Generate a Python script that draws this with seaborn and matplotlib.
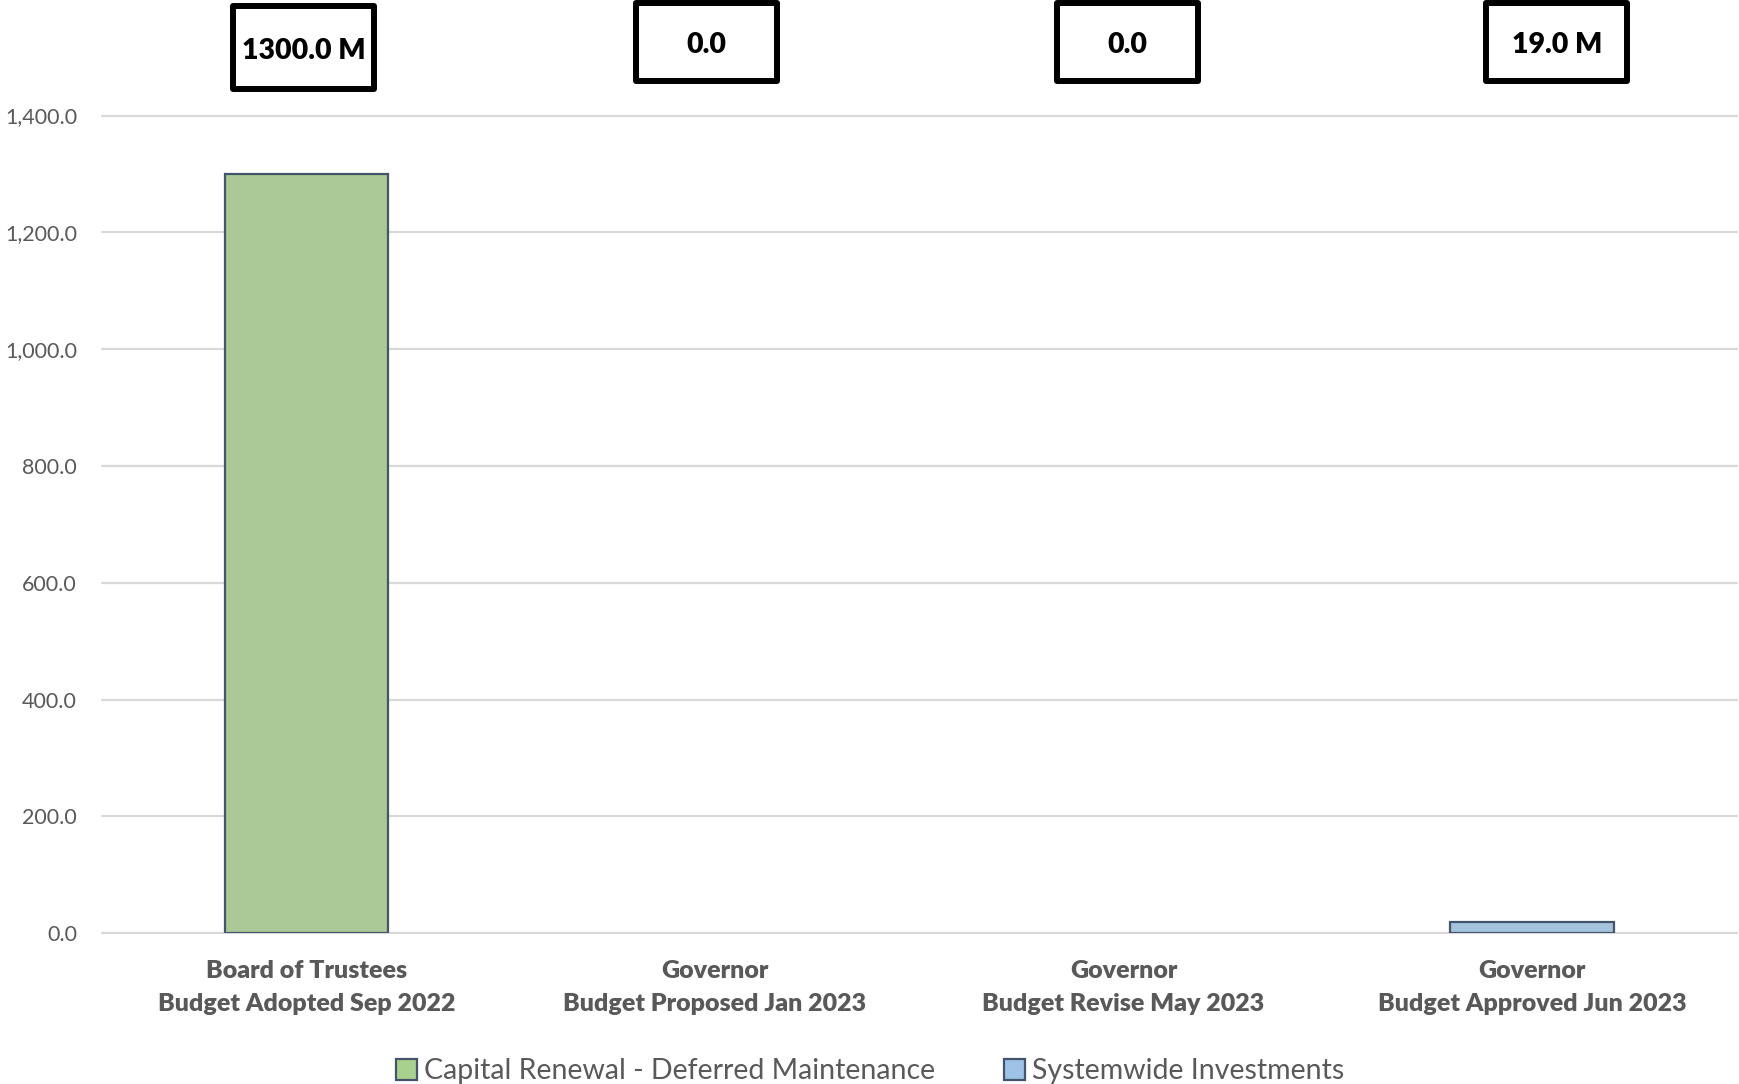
import matplotlib
matplotlib.use('Agg')
import matplotlib.pyplot as plt
import matplotlib.transforms as mtransforms
from matplotlib.patches import Rectangle, Patch
from matplotlib.ticker import FuncFormatter
import seaborn as sns
import pandas as pd

# data
stages = ['Board of Trustees\nBudget Adopted Sep 2022',
          'Governor\nBudget Proposed Jan 2023',
          'Governor\nBudget Revise May 2023',
          'Governor\nBudget Approved Jun 2023']
capital_renewal = [1300.0, 0.0, 0.0, 0.0]
systemwide = [0.0, 0.0, 0.0, 19.0]
total_labels = ['1300.0 M', '0.0', '0.0', '19.0 M']
series_names = ['Capital Renewal - Deferred Maintenance', 'Systemwide Investments']
y_ticks = [0, 200, 400, 600, 800, 1000, 1200, 1400]

colors = ['#a9d18e', '#9dc3e6']
edge = '#44546a'
gray = '#595959'

sns.set_theme(style='white')
plt.rcParams['font.family'] = ['Lato', 'DejaVu Sans']

rows = []
for s, c, w in zip(stages, capital_renewal, systemwide):
    rows.append({'stage': s, 'series': series_names[0], 'value': c})
    rows.append({'stage': s, 'series': series_names[1], 'value': w})
df = pd.DataFrame(rows)
df_plot = df[df['value'] > 0]  # zero segments are not drawn

fig = plt.figure(figsize=(17.4, 10.84), dpi=100)
ax = fig.add_axes([0.0586, 0.139, 0.9394, 0.7544])

sns.barplot(data=df_plot, x='stage', y='value', hue='series',
            hue_order=series_names, order=stages, dodge=False, width=0.4,
            palette=colors, edgecolor=edge, linewidth=1.6, ax=ax, legend=False)

ax.set_ylim(0, 1400)
ax.set_xlim(-0.5, 3.5)
ax.set_yticks(y_ticks)
ax.yaxis.set_major_formatter(FuncFormatter(lambda v, p: f'{v:,.1f}'))
ax.yaxis.grid(True, color='#d9d9d9', linewidth=1.6)
ax.set_axisbelow(True)
for line in ax.get_ygridlines():
    line.set_clip_on(False)
for sp in ax.spines.values():
    sp.set_visible(False)
ax.set_xlabel('')
ax.set_ylabel('')
ax.tick_params(axis='y', length=0, pad=18, labelsize=15.5, labelcolor=gray)
ax.tick_params(axis='x', length=0, pad=19.5, labelsize=18, labelcolor=gray)
for t in ax.get_xticklabels():
    t.set_fontweight('heavy')
    t.set_linespacing(1.6)

# total boxes above the plot
trans = mtransforms.blended_transform_factory(ax.transData, ax.transAxes)
box_shift = [-0.007, -0.02, 0.01, 0.06]
box_bottom = [1.032, 1.042, 1.042, 1.042]
box_height = [0.1025, 0.0955, 0.0955, 0.0955]
box_w = 0.345
for i, lab in enumerate(total_labels):
    xc = i + box_shift[i]
    ax.add_patch(Rectangle((xc - box_w / 2, box_bottom[i]), box_w, box_height[i],
                           transform=trans, clip_on=False, facecolor='white',
                           edgecolor='black', linewidth=4.3, joinstyle='round'))
    ax.text(xc, box_bottom[i] + box_height[i] / 2 - 0.004, lab, transform=trans,
            ha='center', va='center', fontsize=20.5, fontweight='heavy', color='black')

handles = [Patch(facecolor=c, edgecolor=edge, linewidth=1.6) for c in colors]
fig.legend(handles, series_names, loc='lower center', bbox_to_anchor=(0.5, -0.024),
           ncol=2, frameon=False, fontsize=20.5, handlelength=0.75, handleheight=0.75,
           columnspacing=2.4, handletextpad=0.25, labelcolor=gray)

fig.savefig('out.png', dpi=100)
